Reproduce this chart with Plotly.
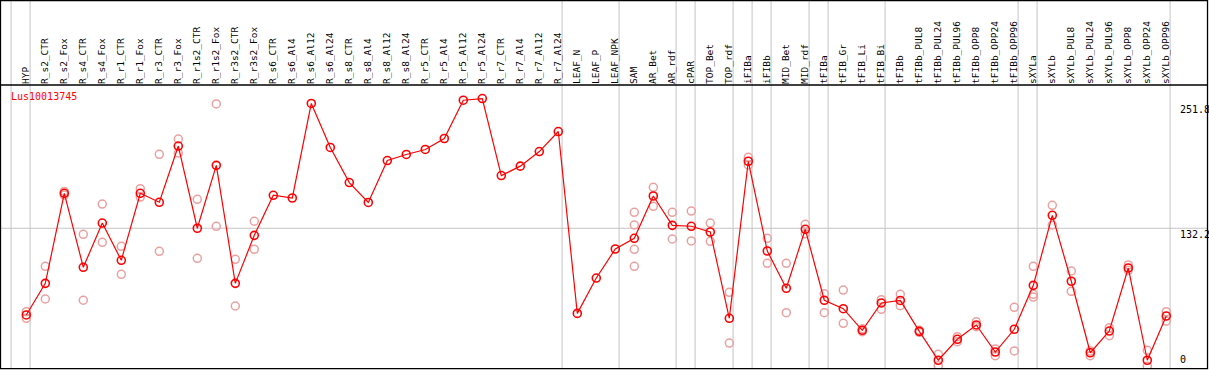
import plotly.graph_objects as go

categories = ["HYP", "R_s2_CTR", "R_s2_Fox", "R_s4_CTR", "R_s4_Fox", "R_r1_CTR", "R_r1_Fox",
              "R_r3_CTR", "R_r3_Fox", "R_r1s2_CTR", "R_r1s2_Fox", "R_r3s2_CTR", "R_r3s2_Fox",
              "R_s6_CTR", "R_s6_Al4", "R_s6_Al12", "R_s6_Al24", "R_s8_CTR", "R_s8_Al4", "R_s8_Al12",
              "R_s8_Al24", "R_r5_CTR", "R_r5_Al4", "R_r5_Al12", "R_r5_Al24", "R_r7_CTR", "R_r7_Al4",
              "R_r7_Al12", "R_r7_Al24", "LEAF_N", "LEAF_P", "LEAF_NPK", "SAM", "AR_Bet", "AR_rdf",
              "cPAR", "TOP_Bet", "TOP_rdf", "iFIBa", "iFIBb", "MID_Bet", "MID_rdf", "tFIBa",
              "tFIB_Gr", "tFIB_Li", "tFIB_Bi", "tFIBb", "tFIBb_PUL8", "tFIBb_PUL24", "tFIBb_PUL96",
              "tFIBb_OPP8", "tFIBb_OPP24", "tFIBb_OPP96", "sXYLa", "sXYLb", "sXYLb_PUL8",
              "sXYLb_PUL24", "sXYLb_PUL96", "sXYLb_OPP8", "sXYLb_OPP24", "sXYLb_OPP96"]

mean_values = [49.1, 79.4, 165.7, 94.8, 137.2, 101.5, 165.7, 157.1, 211.0, 132.2, 192.5, 79.4, 125.4,
               163.8, 161.2, 251.8, 209.6, 176.0, 156.9, 197.1, 202.9, 207.7, 218.2, 254.9, 256.5,
               182.7, 191.7, 205.7, 224.9, 50.6, 84.5, 112.3, 122.6, 163.1, 135.0, 134.1, 128.6,
               45.9, 196.4, 110.4, 74.7, 131.2, 63.2, 55.1, 34.4, 60.6, 63.0, 33.4, 5.7, 25.8,
               39.5, 13.6, 35.4, 77.5, 144.6, 81.4, 12.9, 33.7, 94.1, 5.7, 48.1]

rep_categories = ["HYP", "HYP", "R_s2_CTR", "R_s2_CTR", "R_s2_Fox", "R_s2_Fox",
                  "R_s4_CTR", "R_s4_CTR", "R_s4_Fox", "R_s4_Fox", "R_r1_CTR", "R_r1_CTR",
                  "R_r1_Fox", "R_r1_Fox", "R_r3_CTR", "R_r3_CTR", "R_r3_Fox", "R_r3_Fox",
                  "R_r1s2_CTR", "R_r1s2_CTR", "R_r1s2_Fox", "R_r1s2_Fox",
                  "R_r3s2_CTR", "R_r3s2_CTR", "R_r3s2_Fox", "R_r3s2_Fox",
                  "SAM", "SAM", "SAM", "SAM", "AR_Bet", "AR_Bet", "AR_rdf", "AR_rdf",
                  "cPAR", "cPAR", "TOP_Bet", "TOP_Bet", "TOP_rdf", "TOP_rdf",
                  "iFIBa", "iFIBa", "iFIBb", "iFIBb", "MID_Bet", "MID_Bet", "MID_rdf", "MID_rdf",
                  "tFIBa", "tFIBa", "tFIB_Gr", "tFIB_Gr", "tFIB_Li", "tFIB_Li", "tFIB_Bi", "tFIB_Bi",
                  "tFIBb", "tFIBb", "tFIBb_PUL8", "tFIBb_PUL8", "tFIBb_PUL24", "tFIBb_PUL24",
                  "tFIBb_PUL96", "tFIBb_PUL96", "tFIBb_OPP8", "tFIBb_OPP8",
                  "tFIBb_OPP24", "tFIBb_OPP24", "tFIBb_OPP96", "tFIBb_OPP96",
                  "sXYLa", "sXYLa", "sXYLa", "sXYLb", "sXYLb", "sXYLb_PUL8", "sXYLb_PUL8",
                  "sXYLb_PUL24", "sXYLb_PUL24", "sXYLb_PUL96", "sXYLb_PUL96",
                  "sXYLb_OPP8", "sXYLb_OPP8", "sXYLb_OPP24", "sXYLb_OPP24",
                  "sXYLb_OPP96", "sXYLb_OPP96"]

rep_values = [52.2, 45.9, 95.7, 64.4, 167.5, 164.0,
              126.4, 63.2, 155.4, 118.7, 114.9, 88.1,
              170.1, 162.1, 203.1, 110.1, 217.7, 204.3,
              159.9, 103.4, 251.3, 134.1,
              102.4, 57.7, 138.9, 112.0,
              147.5, 135.3, 112.0, 95.7, 171.4, 153.2, 147.5, 121.9,
              148.7, 120.0, 137.2, 119.7, 70.8, 22.2,
              200.2, 192.8, 122.6, 98.6, 98.6, 51.3, 136.0, 127.0,
              69.5, 51.3, 73.0, 41.1, 35.9, 33.0, 63.7, 54.5,
              68.9, 58.0, 34.4, 32.5, 11.4, 0.5,
              28.3, 23.5, 42.6, 37.9,
              16.5, 10.1, 56.4, 14.6,
              95.7, 68.9, 66.3, 154.2, 135.3, 91.2, 71.8,
              14.6, 10.1, 36.9, 29.2,
              97.0, 91.9, 15.2, 0.0,
              52.2, 43.3]

group_sizes = [1, 28, 3, 3, 1, 2, 1, 1, 2, 1, 3, 7, 1, 7]

y_ticks = [0, 132.2, 251.8]
y_tick_text = ["0", "132.2", "251.8"]
gene_name = "Lus10013745"

W, H = 1209, 370
MT, MB, ML, MR = 85, 1, 0, 1
FONT = "DejaVu Sans Mono"

idx = {c: i for i, c in enumerate(categories)}
xs = list(range(len(categories)))
rep_x = [idx[c] for c in rep_categories]

fig = go.Figure()
fig.add_trace(go.Scatter(
    x=rep_x, y=rep_values, mode="markers",
    marker=dict(symbol="circle-open", size=8, color="#eba0a0", line=dict(width=1.5)),
    hoverinfo="skip", showlegend=False))
fig.add_trace(go.Scatter(
    x=xs, y=mean_values, mode="lines+markers",
    line=dict(color="#ff0000", width=1.2),
    marker=dict(symbol="circle-open", size=8, color="#ff0000", line=dict(width=1.6)),
    text=categories, showlegend=False))

# layout scales (pixel-calibrated)
x_step = 19.0
x_first_px = 26.3
plot_w = W - ML - MR
x_lo = -x_first_px / x_step
x_hi = x_lo + plot_w / x_step

px_per_unit = 1.0435
zero_px = 366.2 - MT
plot_h = H - MT - MB
y_hi = zero_px / px_per_unit
y_lo = -(plot_h - zero_px) / px_per_unit

shapes = []
top_paper = 1 + (MT - 0.5) / plot_h
# group separators
b = 0
bounds = [0]
for g in group_sizes:
    b += g
    bounds.append(b)
for bd in bounds:
    shapes.append(dict(type="line", xref="x", yref="paper", x0=bd - 0.8, x1=bd - 0.8,
                       y0=0, y1=top_paper, line=dict(color="#c4c4c4", width=1), layer="below"))
# gridline at middle tick
shapes.append(dict(type="line", xref="paper", yref="y", x0=0, x1=1, y0=y_ticks[1], y1=y_ticks[1],
                   line=dict(color="#c4c4c4", width=1), layer="below"))
# frame
shapes.append(dict(type="rect", xref="paper", yref="paper", x0=0.0004, x1=0.9996, y0=0.001, y1=top_paper,
                   line=dict(color="black", width=1.3)))
shapes.append(dict(type="line", xref="paper", yref="paper", x0=0, x1=1, y0=1, y1=1,
                   line=dict(color="black", width=1.3)))

annotations = [dict(xref="paper", yref="paper", x=9 / plot_w, y=1 - 12 / plot_h, text=gene_name,
                    showarrow=False, xanchor="left", yanchor="middle",
                    font=dict(family=FONT, size=10, color="#ff0000"))]
for v, t in zip(y_ticks, y_tick_text):
    annotations.append(dict(xref="paper", yref="y", x=1179 / plot_w, y=v, text=t, showarrow=False,
                            xanchor="left", yanchor="bottom" if v == 0 else "top",
                            borderpad=0, font=dict(family=FONT, size=10, color="black")))

fig.update_layout(
    width=W, height=H, autosize=False,
    margin=dict(l=ML, r=MR, t=MT, b=MB, pad=0),
    paper_bgcolor="white", plot_bgcolor="white",
    xaxis=dict(range=[x_lo, x_hi], side="top", tickmode="array", tickvals=xs, ticktext=categories,
               tickangle=-90, ticks="", showgrid=False, zeroline=False, showline=False,
               tickfont=dict(family=FONT, size=9.5, color="black"), fixedrange=True),
    yaxis=dict(range=[y_lo, y_hi], showticklabels=False, ticks="", showgrid=False,
               zeroline=False, showline=False, fixedrange=True),
    shapes=shapes, annotations=annotations,
)

fig.write_html("out.html", config={"displayModeBar": False},
               post_script="document.body.style.margin='0';document.body.style.overflow='hidden';")
